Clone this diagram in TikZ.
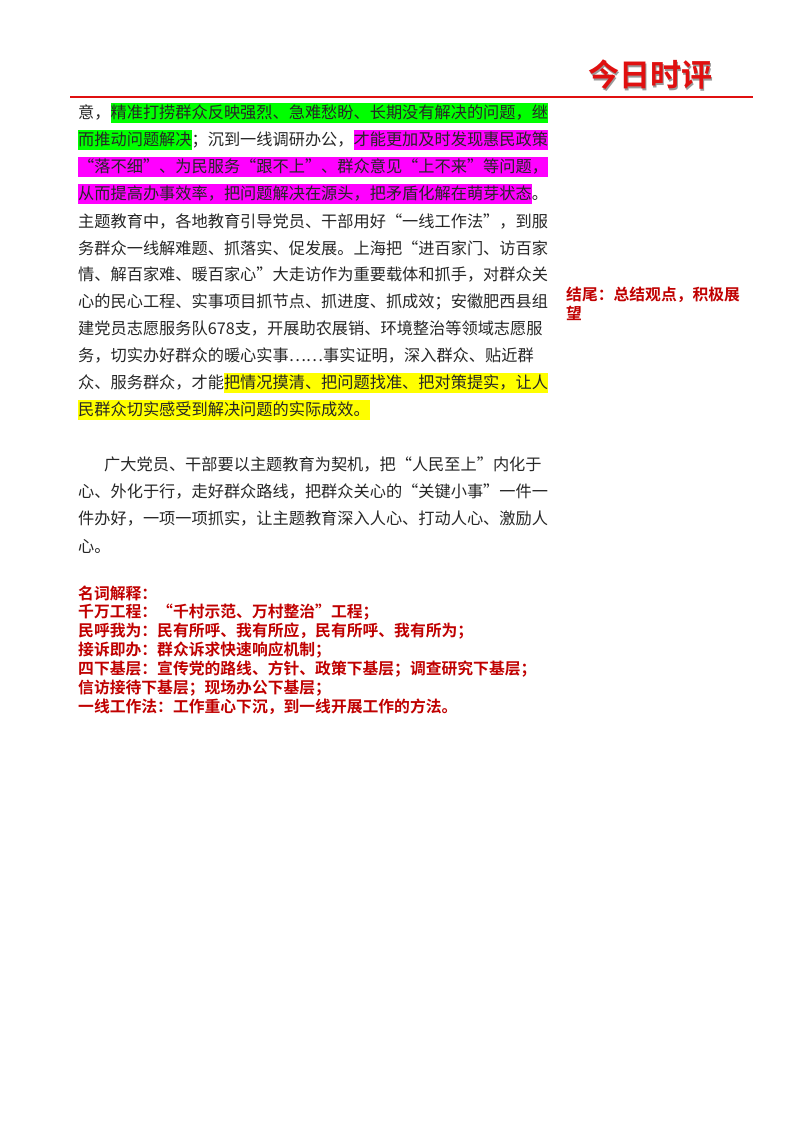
\documentclass[tikz,border=0pt]{standalone}
\usepackage{fontspec}
\newfontfamily\cjk{Noto Sans CJK SC}
\newfontfamily\cjkb{Noto Sans CJK SC Bold}
\definecolor{hlgreen}{HTML}{00FF00}
\definecolor{hlmag}{HTML}{FF00FF}
\definecolor{hlyel}{HTML}{FFFF00}
\definecolor{deepred}{HTML}{C00000}
\definecolor{logored}{HTML}{E01010}
\newcommand\hlbox[2]{{\setlength\fboxsep{0pt}\colorbox{#1}{\rule[-4.5pt]{0pt}{20pt}#2}}}
\tikzset{
  body/.style={anchor=west,inner sep=0pt,font=\cjk\fontsize{16.2}{18}\selectfont,text=black!85},
  note/.style={anchor=west,inner sep=0pt,font=\cjkb\fontsize{15.8}{17}\selectfont,text=deepred},
}
\begin{document}
\begin{tikzpicture}[x=1pt,y=-1pt]
\useasboundingbox (0,0) rectangle (800,1132);
\fill[white] (0,0) rectangle (800,1132);
% header
\node[inner sep=0pt,font=\cjkb\fontsize{31}{33}\selectfont,text=black!40] (logoshadow) at (651.5,76.5) {今日时评};
\node[inner sep=0pt,font=\cjkb\fontsize{31}{33}\selectfont,text=logored] (logo) at (650,75) {今日时评};
\coordinate (ruleL) at (70,97);
\coordinate (ruleR) at (753,97);
\draw[line width=2.5pt,color=logored] (ruleL) -- (ruleR);
% paragraph 1
\node[body] (l1) at (78,113) {意，\hlbox{hlgreen}{精准打捞群众反映强烈、急难愁盼、长期没有解决的问题，继}};
\node[body] (l2) at (78,140) {\hlbox{hlgreen}{而推动问题解决}；沉到一线调研办公，\hlbox{hlmag}{才能更加及时发现惠民政策}};
\node[body] (l3) at (78,167) {\hlbox{hlmag}{“落不细”、为民服务“跟不上”、群众意见“上不来”等问题，}};
\node[body] (l4) at (78,194) {\hlbox{hlmag}{从而提高办事效率，把问题解决在源头，把矛盾化解在萌芽状态}。};
\node[body] (l5) at (78,221) {主题教育中，各地教育引导党员、干部用好“一线工作法”，到服};
\node[body] (l6) at (78,248) {务群众一线解难题、抓落实、促发展。上海把“进百家门、访百家};
\node[body] (l7) at (78,275) {情、解百家难、暖百家心”大走访作为重要载体和抓手，对群众关};
\node[body] (l8) at (78,302) {心的民心工程、实事项目抓节点、抓进度、抓成效；安徽肥西县组};
\node[body] (l9) at (78,329) {建党员志愿服务队678支，开展助农展销、环境整治等领域志愿服};
\node[body] (l10) at (78,356) {务，切实办好群众的暖心实事……事实证明，深入群众、贴近群};
\node[body] (l11) at (78,383) {众、服务群众，才能\hlbox{hlyel}{把情况摸清、把问题找准、把对策提实，让人}};
\node[body] (l12) at (78,410) {\hlbox{hlyel}{民群众切实感受到解决问题的实际成效。}};
% side note
\node[note] (side1) at (566,295) {结尾：总结观点，积极展};
\node[note] (side2) at (566,313) {望};
% paragraph 2
\node[body] (p1) at (104,465) {广大党员、干部要以主题教育为契机，把“人民至上”内化于};
\node[body] (p2) at (78,492) {心、外化于行，走好群众路线，把群众关心的“关键小事”一件一};
\node[body] (p3) at (78,519) {件办好，一项一项抓实，让主题教育深入人心、打动人心、激励人};
\node[body] (p4) at (78,546) {心。};
% glossary
\node[note] (g0) at (78,593) {名词解释：};
\node[note] (g1) at (78,612) {千万工程：“千村示范、万村整治”工程；};
\node[note] (g2) at (78,631) {民呼我为：民有所呼、我有所应，民有所呼、我有所为；};
\node[note] (g3) at (78,650) {接诉即办：群众诉求快速响应机制；};
\node[note] (g4) at (78,669) {四下基层：宣传党的路线、方针、政策下基层；调查研究下基层；};
\node[note] (g5) at (78,688) {信访接待下基层；现场办公下基层；};
\node[note] (g6) at (78,707) {一线工作法：工作重心下沉，到一线开展工作的方法。};
\end{tikzpicture}
\end{document}
